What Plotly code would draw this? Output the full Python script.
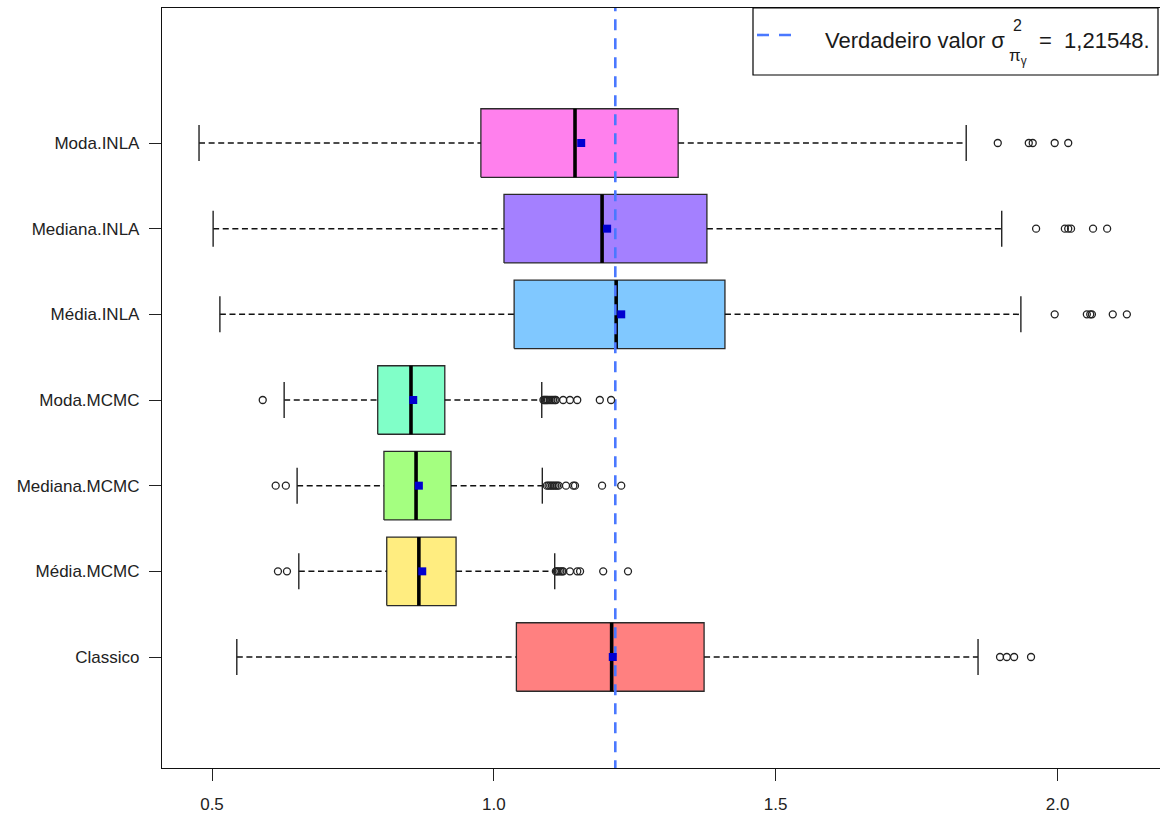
import plotly.graph_objects as go

# Estimativas de sigma^2 por método (resumo dos boxplots)
categorias = ["Classico", "Média.MCMC", "Mediana.MCMC", "Moda.MCMC",
              "Média.INLA", "Mediana.INLA", "Moda.INLA"]
bigode_inf = [0.544, 0.654, 0.651, 0.628, 0.514, 0.502, 0.477]
q1 = [1.040, 0.810, 0.805, 0.794, 1.036, 1.018, 0.977]
mediana = [1.209, 0.867, 0.862, 0.853, 1.217, 1.192, 1.144]
q3 = [1.373, 0.933, 0.924, 0.913, 1.410, 1.378, 1.327]
bigode_sup = [1.859, 1.108, 1.086, 1.085, 1.935, 1.901, 1.838]
media = [1.211, 0.873, 0.867, 0.857, 1.226, 1.201, 1.155]
outliers = [
    [1.898, 1.910, 1.923, 1.953],
    [0.617, 0.633, 1.110, 1.112, 1.115, 1.118, 1.121, 1.123, 1.135, 1.148,
     1.153, 1.194, 1.238],
    [0.613, 0.631, 1.094, 1.097, 1.100, 1.103, 1.106, 1.109, 1.112, 1.115,
     1.128, 1.141, 1.144, 1.192, 1.226],
    [0.590, 1.088, 1.090, 1.092, 1.094, 1.096, 1.099, 1.102, 1.105, 1.108,
     1.110, 1.123, 1.135, 1.148, 1.188, 1.208],
    [1.995, 2.052, 2.058, 2.061, 2.098, 2.123],
    [1.962, 2.013, 2.019, 2.024, 2.063, 2.088],
    [1.894, 1.949, 1.956, 1.995, 2.019],
]
cores = ["#FF8080", "#FFED80", "#A4FF80", "#80FFC8", "#80C8FF", "#A480FF", "#FF80ED"]
valor_verdadeiro = 1.21548
x_ticks = [0.5, 1.0, 1.5, 2.0]
x_ticktext = ["0.5", "1.0", "1.5", "2.0"]

FONT = "Liberation Sans, Arial, sans-serif"
AZUL = "#4A78FF"
MEIA_CAIXA = 0.4
MEIA_HASTE = 0.21

W, H = 1160, 818
ML, MT, MB, MR = 162, 8, 50, 0

fig = go.Figure()
posicoes = list(range(1, len(categorias) + 1))

# caixas
for p, a, b, cor in zip(posicoes, q1, q3, cores):
    fig.add_trace(go.Scatter(
        x=[a, b, b, a, a], y=[p - MEIA_CAIXA, p - MEIA_CAIXA, p + MEIA_CAIXA, p + MEIA_CAIXA, p - MEIA_CAIXA],
        mode="lines", fill="toself", fillcolor=cor,
        line=dict(color="#2a2a2a", width=1.3), hoverinfo="skip", showlegend=False))

# bigodes tracejados
wx, wy = [], []
for p, lo, a, b, hi in zip(posicoes, bigode_inf, q1, q3, bigode_sup):
    wx += [lo, a, None, b, hi, None]
    wy += [p, p, None, p, p, None]
fig.add_trace(go.Scatter(x=wx, y=wy, mode="lines",
                         line=dict(color="#111", width=1.5, dash="6px,3.6px"),
                         hoverinfo="skip", showlegend=False))

# hastes nas extremidades dos bigodes
hx, hy = [], []
for p, lo, hi in zip(posicoes, bigode_inf, bigode_sup):
    hx += [lo, lo, None, hi, hi, None]
    hy += [p - MEIA_HASTE, p + MEIA_HASTE, None, p - MEIA_HASTE, p + MEIA_HASTE, None]
fig.add_trace(go.Scatter(x=hx, y=hy, mode="lines",
                         line=dict(color="#222", width=1.4),
                         hoverinfo="skip", showlegend=False))

# medianas
mx, my = [], []
for p, m in zip(posicoes, mediana):
    mx += [m, m, None]
    my += [p - MEIA_CAIXA, p + MEIA_CAIXA, None]
fig.add_trace(go.Scatter(x=mx, y=my, mode="lines",
                         line=dict(color="black", width=3.6),
                         hoverinfo="skip", showlegend=False))

# valor verdadeiro
fig.add_trace(go.Scatter(x=[valor_verdadeiro, valor_verdadeiro], y=[-1, 10], mode="lines",
                         line=dict(color=AZUL, width=2.6, dash="11px,8px"),
                         hoverinfo="skip", showlegend=False))

# pontos atípicos
ox, oy = [], []
for p, vals in zip(posicoes, outliers):
    ox += vals
    oy += [p] * len(vals)
fig.add_trace(go.Scatter(x=ox, y=oy, mode="markers",
                         marker=dict(symbol="circle-open", size=7, color="#222",
                                     line=dict(width=1.3)),
                         hoverinfo="skip", showlegend=False))

# médias
fig.add_trace(go.Scatter(x=media, y=posicoes, mode="markers",
                         marker=dict(symbol="square", size=8, color="#0000D0"),
                         hoverinfo="skip", showlegend=False))

# legenda desenhada à mão
pw, ph = W - ML - MR, H - MT - MB


def px(xp):
    return (xp - ML) / pw


def py(yp):
    return (H - MB - yp) / ph


fig.add_shape(type="rect", xref="paper", yref="paper",
              x0=px(753), x1=px(1158), y0=py(75), y1=py(8),
              line=dict(color="black", width=1.2), fillcolor="white", layer="above")
fig.add_shape(type="line", xref="paper", yref="paper",
              x0=px(757), x1=px(795), y0=py(35), y1=py(35),
              line=dict(color=AZUL, width=2.6, dash="12px,10px"))

txt = dict(family=FONT, size=22, color="#1a1a1a")
fig.add_annotation(xref="paper", yref="paper", x=px(1007), y=py(41),
                   xanchor="right", yanchor="middle", showarrow=False,
                   text="Verdadeiro valor σ", font=txt)
fig.add_annotation(xref="paper", yref="paper", x=px(1007), y=py(57),
                   xanchor="left", yanchor="middle", showarrow=False,
                   text="π<sub>γ</sub>", font=dict(family=FONT, size=17, color="#1a1a1a"))
fig.add_annotation(xref="paper", yref="paper", x=px(1011), y=py(25),
                   xanchor="left", yanchor="middle", showarrow=False,
                   text="2", font=dict(family=FONT, size=16, color="#1a1a1a"))
fig.add_annotation(xref="paper", yref="paper", x=px(1037), y=py(41),
                   xanchor="left", yanchor="middle", showarrow=False,
                   text="=  1,21548.", font=txt)

fig.update_layout(
    width=W, height=H,
    margin=dict(l=ML, r=MR, t=MT, b=MB, pad=0),
    paper_bgcolor="white", plot_bgcolor="white",
    font=dict(family=FONT, size=17, color="#1a1a1a"),
    showlegend=False,
    xaxis=dict(range=[0.4113, 2.1818], tickvals=x_ticks, ticktext=x_ticktext,
               ticks="outside", ticklen=12, tickwidth=1.2, tickcolor="#222",
               showline=True, mirror=True, linecolor="#111", linewidth=1.3,
               showgrid=False, zeroline=False, ticklabelstandoff=8,
               tickfont=dict(size=17, color="#222")),
    yaxis=dict(range=[-0.2957, 8.576], tickvals=posicoes, ticktext=categorias,
               ticks="outside", ticklen=12, tickwidth=1.2, tickcolor="#222",
               showline=True, mirror=False, linecolor="#111", linewidth=1.3,
               showgrid=False, zeroline=False, ticklabelstandoff=6,
               tickfont=dict(size=17, color="#222")),
)

fig.write_html("out.html")
